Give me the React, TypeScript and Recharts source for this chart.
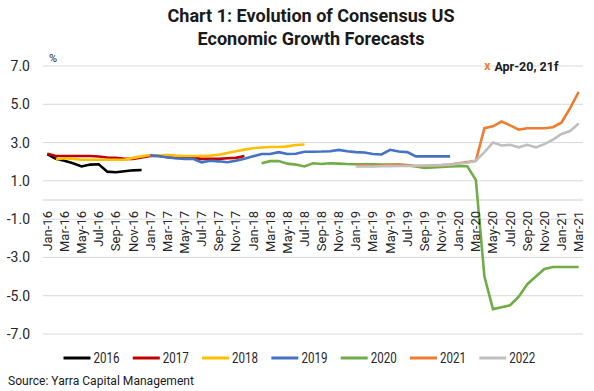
import React from "react";
import { LineChart, Line, XAxis, YAxis, CartesianGrid, ReferenceLine, ReferenceDot, Legend } from "recharts";

const months = [
  "Jan-16","Feb-16","Mar-16","Apr-16","May-16","Jun-16","Jul-16","Aug-16","Sep-16","Oct-16","Nov-16","Dec-16",
  "Jan-17","Feb-17","Mar-17","Apr-17","May-17","Jun-17","Jul-17","Aug-17","Sep-17","Oct-17","Nov-17","Dec-17",
  "Jan-18","Feb-18","Mar-18","Apr-18","May-18","Jun-18","Jul-18","Aug-18","Sep-18","Oct-18","Nov-18","Dec-18",
  "Jan-19","Feb-19","Mar-19","Apr-19","May-19","Jun-19","Jul-19","Aug-19","Sep-19","Oct-19","Nov-19","Dec-19",
  "Jan-20","Feb-20","Mar-20","Apr-20","May-20","Jun-20","Jul-20","Aug-20","Sep-20","Oct-20","Nov-20","Dec-20",
  "Jan-21","Feb-21","Mar-21",
];

const yTicks = [-7, -5, -3, -1, 1, 3, 5, 7];

// each forecast series starts at the month named in its start* constant
const start2016 = "Jan-16";
const v2016 = [2.4, 2.15, 2.05, 1.92, 1.75, 1.85, 1.87, 1.48, 1.45, 1.5, 1.55, 1.57];

const start2017 = "Jan-16";
const v2017 = [2.42, 2.3, 2.3, 2.3, 2.3, 2.3, 2.27, 2.22, 2.2, 2.15, 2.15, 2.22, 2.3, 2.3, 2.25, 2.2, 2.2, 2.2, 2.15, 2.15, 2.15, 2.18, 2.2, 2.3];

const start2018 = "Feb-16";
const v2018 = [2.12, 2.18, 2.15, 2.1, 2.1, 2.1, 2.1, 2.1, 2.1, 2.2, 2.28, 2.35, 2.32, 2.35, 2.32, 2.3, 2.3, 2.3, 2.32, 2.36, 2.45, 2.55, 2.63, 2.7, 2.74, 2.77, 2.77, 2.8, 2.87, 2.9];

const start2019 = "Jan-17";
const v2019 = [2.33, 2.3, 2.22, 2.18, 2.15, 2.15, 1.97, 2.05, 2.02, 1.97, 2.05, 2.15, 2.28, 2.4, 2.4, 2.5, 2.4, 2.42, 2.52, 2.52, 2.53, 2.55, 2.62, 2.55, 2.5, 2.48, 2.4, 2.38, 2.62, 2.53, 2.5, 2.28, 2.28, 2.28, 2.28, 2.28];

const start2020 = "Feb-18";
const v2020 = [1.92, 2.03, 2.04, 1.9, 1.85, 1.75, 1.92, 1.88, 1.92, 1.9, 1.88, 1.87, 1.87, 1.87, 1.85, 1.85, 1.85, 1.8, 1.75, 1.68, 1.7, 1.72, 1.75, 1.76, 1.76, 1.05, -4.0, -5.7, -5.6, -5.5, -5.05, -4.4, -4.0, -3.6, -3.5, -3.5, -3.5, -3.5];

const start2021 = "Jan-19";
const v2021 = [1.8, 1.8, 1.78, 1.8, 1.82, 1.85, 1.82, 1.78, 1.78, 1.8, 1.82, 1.85, 1.92, 1.98, 2.05, 3.75, 3.85, 4.1, 3.9, 3.68, 3.75, 3.75, 3.75, 3.8, 4.05, 4.8, 5.65];

const start2022 = "Jan-19";
const v2022 = [1.75, 1.75, 1.75, 1.76, 1.77, 1.78, 1.78, 1.79, 1.8, 1.8, 1.82, 1.84, 1.9, 1.95, 2.05, 2.5, 3.0, 2.85, 2.88, 2.75, 2.88, 2.75, 2.92, 3.15, 3.45, 3.6, 4.0];

const annotationMonth = "Apr-20";
const annotationValue = 7.0;
const annotationLabel = "Apr-20, 21f";

const series = [
  { name: "2016", start: start2016, values: v2016, color: "#000000" },
  { name: "2017", start: start2017, values: v2017, color: "#c00000" },
  { name: "2018", start: start2018, values: v2018, color: "#ffc000" },
  { name: "2019", start: start2019, values: v2019, color: "#4472c4" },
  { name: "2020", start: start2020, values: v2020, color: "#70ad47" },
  { name: "2021", start: start2021, values: v2021, color: "#ed7d31" },
  { name: "2022", start: start2022, values: v2022, color: "#bfbfbf" },
];

const data = months.map((m, i) => {
  const row: Record<string, any> = { month: m };
  series.forEach((s) => {
    const k = i - months.indexOf(s.start);
    row[s.name] = k >= 0 && k < s.values.length ? s.values[k] : null;
  });
  return row;
});

const FONT = "Roboto, 'Liberation Sans', Arial, sans-serif";

const XTick = (props: any) => {
  const { x, payload } = props;
  const top = 211;
  return (
    <text
      x={x}
      y={top}
      transform={`rotate(-90, ${x}, ${top})`}
      textAnchor="end"
      dominantBaseline="central"
      fontFamily={FONT}
      fontSize={13}
      fill="#262626"
    >
      {payload.value}
    </text>
  );
};

const YTick = (props: any) => {
  const { y, payload } = props;
  return (
    <text x={30} y={y} textAnchor="end" dominantBaseline="central" fontFamily={FONT} fontSize={14} fill="#262626">
      {Number(payload.value).toFixed(1)}
    </text>
  );
};

const LegendContent = (props: any) => {
  const payload = props.payload || [];
  return (
    <svg width={594} height={26} style={{ display: "block" }}>
      {payload.map((p: any, i: number) => {
        const x0 = 63.5 + i * 69.3;
        return (
          <g key={p.value}>
            <line x1={x0} x2={x0 + 27} y1={13} y2={13} stroke={p.color} strokeWidth={3} />
            <text
              x={x0 + 30}
              y={13}
              dominantBaseline="central"
              fontFamily={FONT}
              fontSize={15}
              fill="#262626"
              textLength={26}
              lengthAdjust="spacingAndGlyphs"
            >
              {p.value}
            </text>
          </g>
        );
      })}
    </svg>
  );
};

const AnnotationShape = (props: any) => {
  const { cx, cy } = props;
  return (
    <g>
      <text x={cx + 3} y={cy} textAnchor="middle" dominantBaseline="central" fontFamily={FONT} fontSize={12} fontWeight="bold" fill="#ed7d31">
        x
      </text>
      <text
        x={cx + 10}
        y={cy}
        dominantBaseline="central"
        fontFamily={FONT}
        fontSize={13}
        fontWeight="bold"
        fill="#1a1a1a"
        textLength={64}
        lengthAdjust="spacingAndGlyphs"
      >
        {annotationLabel}
      </text>
    </g>
  );
};

export default function App() {
  return (
    <div style={{ position: "absolute", left: 0, top: 0, width: 594, height: 391, background: "#ffffff" }}>
      <LineChart width={594} height={391} data={data} margin={{ top: 66, right: 11, bottom: 30, left: 0 }}>
        <CartesianGrid vertical={false} stroke="#d9d9d9" />
        <XAxis
          dataKey="month"
          interval={1}
          tickLine={false}
          axisLine={false}
          tickSize={0}
          tickMargin={0}
          height={1}
          padding={{ left: 4.3, right: 4.3 }}
          tick={<XTick />}
        />
        <YAxis
          domain={[-7, 7]}
          ticks={yTicks}
          type="number"
          width={43}
          axisLine={false}
          tickLine={false}
          tick={<YTick />}
          allowDataOverflow
        />
        <ReferenceLine y={0} stroke="#d0d0d0" strokeWidth={1} />
        <Legend
          verticalAlign="bottom"
          content={<LegendContent />}
          wrapperStyle={{ left: 0, top: 345, width: 594, height: 26 }}
        />
        {series.map((s) => (
          <Line
            key={s.name}
            type="linear"
            dataKey={s.name}
            name={s.name}
            stroke={s.color}
            strokeWidth={2.6}
            dot={false}
            activeDot={false}
            isAnimationActive={false}
            legendType="plainline"
          />
        ))}
        <ReferenceDot x={annotationMonth} y={annotationValue} ifOverflow="visible" shape={<AnnotationShape />} />
      </LineChart>
      <svg width={594} height={391} style={{ position: "absolute", left: 0, top: 0, pointerEvents: "none" }}>
        <text x={311} y={22} textAnchor="middle" fontFamily={FONT} fontSize={19} fontWeight="bold" fill="#1a1a1a" textLength={287} lengthAdjust="spacingAndGlyphs">
          Chart 1: Evolution of Consensus US
        </text>
        <text x={311} y={44.5} textAnchor="middle" fontFamily={FONT} fontSize={19} fontWeight="bold" fill="#1a1a1a" textLength={227} lengthAdjust="spacingAndGlyphs">
          Economic Growth Forecasts
        </text>
        <text x={49} y={62} fontFamily={FONT} fontSize={11} fill="#262626">
          %
        </text>
        <text x={8} y={385} fontFamily={FONT} fontSize={12} fill="#1a1a1a" textLength={186} lengthAdjust="spacingAndGlyphs">
          Source: Yarra Capital Management
        </text>
      </svg>
    </div>
  );
}
